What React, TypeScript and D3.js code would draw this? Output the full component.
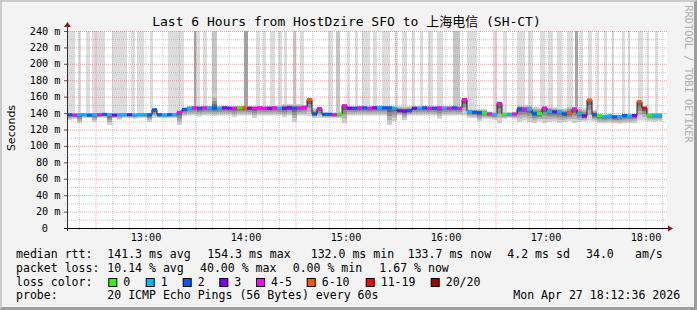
import React from 'react';
import * as d3 from 'd3';

// ---------------- data ----------------
const START_MS = Date.UTC(2026, 3, 27, 12, 12, 36);
const END_MS = Date.UTC(2026, 3, 27, 18, 12, 36);
const BIN_MIN = 3; // minutes per median sample

// median rtt (ms) per 3-minute sample
const medianMs = [
  138, 137.5, 138, 138, 137.5, 138, 138, 138.5, 138, 137.5, 138, 138, 138, 137.5, 138, 138, 138,
  144,
  138, 137.5, 138, 138,
  141, 144.5,
  146, 146.5, 146, 146.5, 146.5, 146, 146, 146.5, 146, 146, 146.5, 146.5, 146, 146, 146.5, 146, 146, 146.5, 146, 146, 146.5, 146, 146,
  147, 156.5, 139, 145.5,
  138.5, 138.5, 138, 138.5,
  149,
  146, 146, 146.5, 146.5, 146, 146.5, 147, 146.5, 146.5, 146,
  143, 142.5, 143,
  146, 146, 146.5, 146, 146, 146.5, 146, 146, 146.5, 146,
  156.5,
  142, 141, 140.5, 140,
  139, 138.5, 152,
  138.5, 138.5, 139,
  145, 145, 144.5,
  139.5, 139.5, 146,
  142, 141.5, 141.5,
  139, 140, 145, 139, 136.5, 156, 138,
  137, 136, 136.5, 135.5, 136, 137, 136.5, 137,
  154, 146,
  137.5, 137.5, 137.5,
];

// lost pings (of 20) per sample
const lossCount = [
  2, 5, 1, 1, 2, 1, 5, 2, 1, 3, 1, 1, 3, 1, 1, 1, 2, 2, 2, 1,
  2, 1, 5, 2, 1, 5, 2, 5, 1, 2, 1, 3, 3, 5, 0, 8, 3, 5, 5, 5,
  3, 5, 1, 3, 3, 2, 5, 5, 8, 2, 5, 2, 2, 5, 0, 5, 3, 2, 5, 2,
  5, 3, 1, 2, 2, 1, 3, 3, 2, 3, 1, 2, 5, 2, 5, 1, 5, 2, 5, 5,
  1, 2, 2, 0, 5, 1, 5, 0, 1, 5, 2, 5, 1, 2, 0, 5, 1, 3, 1, 2,
  8, 5, 1, 3, 8, 2, 0, 1, 1, 2, 1, 2, 1, 3, 8, 14, 0, 1, 1,
];

// lower edge of the smoke (ms)
const smokeLoMs = [
  131.5, 133, 127.5, 134, 134, 129.5, 134, 134, 125.5, 134, 132, 134, 134, 133, 134, 134, 129.5, 134, 134, 134,
  134, 134, 125.5, 136, 137, 137, 135.5, 137, 137, 136, 137, 137, 137, 135, 137, 137, 137, 134, 137, 137,
  137, 137, 137, 135, 137, 129.5, 137, 137, 136, 134, 134, 134, 134, 134, 134, 127.5, 137, 137, 137, 137,
  137, 137, 137, 137, 125.5, 130, 137, 131.5, 137, 137, 137, 137, 137, 137, 133, 137, 137, 137, 137, 137,
  134, 134, 130, 133, 133, 132, 127.5, 133, 134, 133, 129.5, 131, 129, 128, 130, 127.5, 129, 130, 128, 129,
  130, 128, 129, 130, 131, 130, 127.5, 127.5, 128, 127.5, 127, 127.5, 128, 128, 131, 131, 130, 129.5, 130,
];

// upper edge of the smoke (ms)
const smokeHiMs = [
  140, 140, 140, 140, 140, 140, 140, 140, 140, 140, 140, 140, 140, 140, 140, 140, 140, 146, 140, 140,
  140, 140, 143, 147, 148.5, 148.5, 148.5, 148.5, 148.5, 164, 148.5, 148.5, 148.5, 148.5, 148.5, 148.5, 148.5, 148.5, 148.5, 148.5,
  148.5, 148.5, 148.5, 151, 151, 151, 151, 150, 158, 146, 147, 141, 141, 141, 141, 151, 148.5, 148.5, 148.5, 148.5,
  148.5, 148.5, 148.5, 148.5, 148.5, 148.5, 148.5, 148.5, 148.5, 148.5, 148.5, 148.5, 148.5, 148.5, 148.5, 148.5, 148.5, 148.5, 148.5, 158,
  145, 145, 145, 145, 142, 141, 153, 141, 141, 141, 150, 149, 150, 148, 147, 149, 148, 147, 146, 146,
  149, 148, 147, 146, 157, 144, 138.5, 138, 139, 138, 138, 139, 139, 139, 155, 149, 140, 140, 140,
];

// outer smoke columns reaching the top of the graph (minutes after start)
const bandStartMin = [
  0.6, 6.6, 11.4, 15, 27, 38.4, 42, 49.8, 60.6, 76.2, 77.4, 81.6, 87, 106.2, 113.4, 117.6, 121.8, 126.6,
  130.2, 135.6, 139.8, 156.6, 161.4, 168, 172.8, 177, 183.6, 189, 196.8, 201, 207, 211.8, 216.6, 222,
  231.6, 240, 255.6, 261.6, 270, 276.6, 283.8, 288.6, 294, 300, 304.8, 307.8, 312.6, 318, 322.2, 327,
  333, 336.6, 342.6, 348, 352.8,
];
const bandEndMin = [
  4.8, 8.4, 13.8, 22.8, 36, 40.8, 46.2, 51.6, 70.2, 77.4, 79.8, 84, 90, 108.6, 115.8, 119.4, 124.8, 129,
  132, 137.4, 142.2, 159.6, 163.8, 169.8, 174.6, 181.8, 186, 193.8, 198.6, 204, 208.8, 213.6, 219.6, 225.6,
  235.8, 246, 258, 264, 274.8, 279.6, 286.8, 291.6, 297, 303.6, 306.6, 309.6, 315, 319.2, 324, 328.2,
  334.8, 337.8, 345.6, 349.2, 354.6,
];
const bandShade = [
  0, 0, 0, 0, 0, 0, 0, 0, 0, 2, 0, 0, 1, 2, 0, 0, 0, 0,
  0, 1, 0, 0, 1, 0, 0, 0, 0, 0, 0, 0, 0, 0, 0, 0,
  1, 0, 0, 0, 0, 0, 0, 0, 0, 0, 2, 0, 0, 0, 0, 0,
  0, 0, 0, 0, 0,
];

const yTickValues = [0, 20, 40, 60, 80, 100, 120, 140, 160, 180, 200, 220, 240];
const yTickLabels = ['0', '20 m', '40 m', '60 m', '80 m', '100 m', '120 m', '140 m', '160 m', '180 m', '200 m', '220 m', '240 m'];

const lossLabels = ['0', '1', '2', '3', '4-5', '6-10', '11-19', '20/20'];
const lossColors = ['#26ff00', '#00b8ff', '#0059ff', '#7e00ff', '#ff00ff', '#ff5500', '#ff0000', '#a10000'];
const lossThresholds = [1, 2, 3, 4, 6, 11, 20];

const title = 'Last 6 Hours from HostDzire SFO to 上海电信 (SH-CT)';
const rttLine = ['median rtt:', '141.3 ms avg', '154.3 ms max', '132.0 ms min', '133.7 ms now', '4.2 ms sd', '34.0', 'am/s'];
const lossLine = ['packet loss:', '10.14 % avg', '40.00 % max', '0.00 % min', '1.67 % now'];
const probeLine = ['probe:', '20 ICMP Echo Pings (56 Bytes) every 60s', 'Mon Apr 27 18:12:36 2026'];

// ---------------- layout ----------------
const W = 697, H = 310;
const PL = 67, PR = 667, PT = 31, PB = 228;
const MONO = '"DejaVu Sans Mono", "Noto Sans CJK SC", monospace';
const rttX = [16, 107.3, 207.3, 310.7, 407.7, 507.3, 586, 635];
const lossX = [16, 107.3, 200, 292.7, 379.3];
const probeX = [16, 107.3, 513.3];
const boxX = [108.3, 145.7, 182.7, 219.3, 256, 306.7, 365.7, 430.7];
const shadeColors = ['#dddddd', '#c6c6c6', '#a4a4a4'];
const smokeLayers = [
  { t: 1.0, c: '#d2d2d2' },
  { t: 0.72, c: '#b2b2b2' },
  { t: 0.48, c: '#8e8e8e' },
  { t: 0.26, c: '#686868' },
];

export default function App() {
  const x = d3.scaleUtc().domain([new Date(START_MS), new Date(END_MS)]).range([PL, PR]);
  const y = d3.scaleLinear().domain([0, 240]).range([PB, PT]);
  const color = d3.scaleThreshold<number, string>().domain(lossThresholds).range(lossColors);
  const tAt = (min: number) => new Date(START_MS + min * 60000);

  type Pt = { t: Date; m: number; lo: number; hi: number };
  const pts: Pt[] = medianMs.map((m, i) => ({ t: tAt(i * BIN_MIN), m, lo: Math.min(smokeLoMs[i], m), hi: Math.max(smokeHiMs[i], m) }));
  const last = pts[pts.length - 1];
  const ptsEnd = [...pts, { ...last, t: tAt(pts.length * BIN_MIN) }];

  const minorTicks = x.ticks(d3.utcMinute.every(10) as d3.TimeInterval);
  const hourTicks = x.ticks(d3.utcHour.every(1) as d3.TimeInterval);
  const halfHour = minorTicks.filter((d) => d.getUTCMinutes() === 30);
  const minorX = minorTicks.filter((d) => d.getUTCMinutes() !== 30);
  const fmt = d3.utcFormat('%H:%M');
  const yAll = d3.range(10, 241, 10);
  const yMinor = yAll.filter((v) => v % 20 !== 0);
  const yMajor = yAll.filter((v) => v % 20 === 0);

  const medLine = d3.line<Pt>().x((d) => x(d.t)).y((d) => y(d.m)).curve(d3.curveStepAfter);

  return (
    <svg width={W} height={H} style={{ position: 'absolute', left: 0, top: 0 }} xmlns="http://www.w3.org/2000/svg">
      <rect x={0} y={0} width={W} height={H} fill="#f3f3f3" />
      {/* 3D frame */}
      <polygon points={`0,0 ${W},0 ${W - 2},2 2,2 2,${H - 2} 0,${H}`} fill="#cbcbcb" />
      <polygon points={`${W},0 ${W},${H} 0,${H} 2,${H - 3} ${W - 3},${H - 3} ${W - 3},2`} fill="#9d9d9d" />
      {/* canvas */}
      <rect x={PL} y={PT} width={PR - PL} height={PB - PT} fill="#ffffff" />

      {/* outer smoke columns */}
      {bandStartMin.map((s, i) => {
        const x0 = x(tAt(s));
        const x1 = x(tAt(bandEndMin[i]));
        const bi = Math.min(medianMs.length - 1, Math.floor(s / BIN_MIN));
        const yb = y(medianMs[bi]);
        return <rect key={'b' + i} x={x0} y={PT} width={x1 - x0} height={yb - PT} fill={shadeColors[bandShade[i]]} />;
      })}

      {/* smoke */}
      {smokeLayers.map((L, k) => {
        const area = d3
          .area<Pt>()
          .x((d) => x(d.t))
          .y0((d) => y(d.m - L.t * (d.m - d.lo)))
          .y1((d) => y(d.m + L.t * (d.hi - d.m)))
          .curve(d3.curveStepAfter);
        return <path key={'s' + k} d={area(ptsEnd) || ''} fill={L.c} />;
      })}

      {/* grid */}
      {minorX.map((d, i) => (
        <line key={'gx' + i} x1={x(d)} x2={x(d)} y1={PT} y2={PB + 2} stroke="rgba(140,140,140,0.45)" strokeDasharray="1,1" />
      ))}
      {halfHour.map((d, i) => (
        <line key={'mx' + i} x1={x(d)} x2={x(d)} y1={PT} y2={PB + 2} stroke="rgba(255,95,95,0.6)" strokeDasharray="1,1" />
      ))}
      {yMinor.map((v, i) => (
        <line key={'gy' + i} x1={PL - 2} x2={PR} y1={y(v) + 0.5} y2={y(v) + 0.5} stroke="rgba(140,140,140,0.45)" strokeDasharray="1,1" />
      ))}
      {yMajor.map((v, i) => (
        <line key={'my' + i} x1={PL - 3} x2={PR} y1={y(v) + 0.5} y2={y(v) + 0.5} stroke="rgba(255,95,95,0.6)" strokeDasharray="1,1" />
      ))}
      {yMajor.map((v, i) => (
        <line key={'ty' + i} x1={PL - 3} x2={PL} y1={y(v) + 0.5} y2={y(v) + 0.5} stroke="#606060" />
      ))}

      {/* median */}
      <path d={medLine(ptsEnd) || ''} fill="none" stroke="#202020" strokeWidth={1} />
      {pts.map((d, i) => (
        <line key={'m' + i} x1={x(d.t)} x2={x(ptsEnd[i + 1].t)} y1={y(d.m)} y2={y(d.m)} stroke={color(lossCount[i])} strokeWidth={3} />
      ))}

      {/* axes */}
      <line x1={PL - 3} x2={PR + 3} y1={PB + 0.5} y2={PB + 0.5} stroke="#000000" />
      <line x1={PL + 0.5} x2={PL + 0.5} y1={PB + 3} y2={PT - 6} stroke="#303030" />
      <polygon points={`${PR + 1},${PB - 2.5} ${PR + 6},${PB + 0.5} ${PR + 1},${PB + 3.5}`} fill="#8b1a1a" />
      <polygon points={`${PL - 3},${PT - 4} ${PL + 0.5},${PT - 9} ${PL + 4},${PT - 4}`} fill="#8b1a1a" />

      {/* y labels */}
      {yTickValues.map((v, i) => (
        <text key={'yl' + i} x={v === 0 ? 60 - 12.2 : 60.5} y={y(v) + 3.5} fontFamily={MONO} fontSize={10.2} textAnchor="end" fill="#000">
          {yTickLabels[i]}
        </text>
      ))}
      {/* x labels */}
      {hourTicks.map((d, i) => (
        <text key={'xl' + i} x={x(d)} y={241} fontFamily={MONO} fontSize={10.2} textAnchor="middle" fill="#000">
          {fmt(d)}
        </text>
      ))}

      {/* titles */}
      <text x={346.5} y={25.5} fontFamily={MONO} fontSize={13} textAnchor="middle" fill="#000">{title}</text>
      <text transform="translate(14.5,128) rotate(-90)" fontFamily='"DejaVu Sans", sans-serif' fontSize={11} textAnchor="middle" fill="#000">Seconds</text>
      <text transform="translate(685,74) rotate(90)" fontFamily={MONO} fontSize={10.4} textAnchor="middle" fill="#b0b0b0">RRDTOOL / TOBI OETIKER</text>

      {/* legend */}
      {rttLine.map((s, i) => (
        <text key={'r' + i} x={rttX[i]} y={258} fontFamily={MONO} fontSize={11.55} fill="#000" style={{ whiteSpace: 'pre' }}>{s}</text>
      ))}
      {lossLine.map((s, i) => (
        <text key={'l' + i} x={lossX[i]} y={271.8} fontFamily={MONO} fontSize={11.55} fill="#000">{s}</text>
      ))}
      <text x={16} y={285.5} fontFamily={MONO} fontSize={11.55} fill="#000">loss color:</text>
      {lossLabels.map((s, i) => (
        <g key={'lc' + i}>
          <rect x={boxX[i] + 0.5} y={278.5} width={8} height={8} fill={lossColors[i]} stroke="#000" strokeWidth={1} />
          <text x={boxX[i] + 15} y={285.5} fontFamily={MONO} fontSize={11.55} fill="#000">{s}</text>
        </g>
      ))}
      {probeLine.map((s, i) => (
        <text key={'p' + i} x={probeX[i]} y={299.3} fontFamily={MONO} fontSize={11.55} fill="#000">{s}</text>
      ))}
    </svg>
  );
}
